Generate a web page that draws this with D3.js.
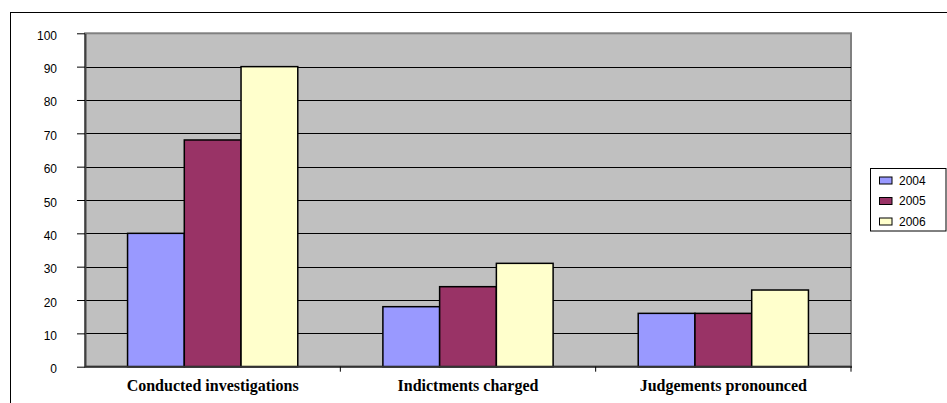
<!DOCTYPE html>
<html>
<head>
<meta charset="utf-8">
<script src="https://cdn.jsdelivr.net/npm/d3@7"></script>
<style>
  html, body { margin: 0; padding: 0; background: #fff; }
  svg { display: block; }
</style>
</head>
<body>
<svg id="chart" width="947" height="403"></svg>
<script>
// Case counts per year for each stage of proceedings
const categories = ["Conducted investigations", "Indictments charged", "Judgements pronounced"];
const years = ["2004", "2005", "2006"];
const values2004 = [40, 18, 16];
const values2005 = [68, 24, 16];
const values2006 = [90, 31, 23];
const yTicks = [0, 10, 20, 30, 40, 50, 60, 70, 80, 90, 100];
const seriesColors = ["#9999FF", "#993366", "#FFFFCC"];

const series = [values2004, values2005, values2006];

const svg = d3.select("#chart");
const plot = { left: 85, right: 851, top: 33.3, bottom: 366.7 };

// Outer chart frame (top and left edges show; the rest runs off the canvas)
svg.append("rect")
  .attr("x", 10.5).attr("y", 12.5)
  .attr("width", 960).attr("height", 420)
  .attr("fill", "#fff").attr("stroke", "#000").attr("stroke-width", 1);

const x = d3.scaleBand().domain(categories).range([plot.left, plot.right]).padding(0);
const xs = d3.scaleBand().domain(years).range([0, x.bandwidth()])
  .paddingInner(0).paddingOuter(0.75);
const y = d3.scaleLinear().domain([0, 100]).range([plot.bottom, plot.top]);

// Plot background
svg.append("rect")
  .attr("x", plot.left).attr("y", plot.top)
  .attr("width", plot.right - plot.left).attr("height", plot.bottom - plot.top)
  .attr("fill", "#C0C0C0").attr("stroke", "#808080").attr("stroke-width", 2);

// Horizontal gridlines
svg.append("g")
  .selectAll("line")
  .data(yTicks.filter(t => t > 0 && t < 100))
  .join("line")
  .attr("x1", plot.left).attr("x2", plot.right)
  .attr("y1", d => Math.round(y(d)) + 0.5).attr("y2", d => Math.round(y(d)) + 0.5)
  .attr("stroke", "#000").attr("stroke-width", 1);

// Bars
const groups = svg.append("g")
  .selectAll("g")
  .data(categories)
  .join("g")
  .attr("transform", d => `translate(${x(d)},0)`);

groups.selectAll("rect")
  .data((c, ci) => years.map((yr, si) => ({ yr, si, v: series[si][ci] })))
  .join("rect")
  .attr("x", d => xs(d.yr))
  .attr("y", d => y(d.v))
  .attr("width", xs.bandwidth())
  .attr("height", d => y(0) - y(d.v))
  .attr("fill", d => seriesColors[d.si])
  .attr("stroke", "#000")
  .attr("stroke-width", 1.5);

// Y axis
const yAxis = svg.append("g")
  .attr("transform", `translate(${plot.left},0)`)
  .call(d3.axisLeft(y).tickValues(yTicks).tickSize(8).tickPadding(20).tickSizeOuter(0));
yAxis.select(".domain").attr("stroke", "#404040").attr("stroke-width", 2);
yAxis.selectAll(".tick line").attr("stroke", "#000");
yAxis.selectAll(".tick text")
  .attr("font-family", "'Liberation Sans', Arial, sans-serif")
  .attr("font-size", 12)
  .attr("fill", "#000")
  .attr("dy", "0.5em");

// X axis baseline with category boundary ticks
svg.append("line")
  .attr("x1", plot.left).attr("x2", plot.right + 1)
  .attr("y1", plot.bottom).attr("y2", plot.bottom)
  .attr("stroke", "#333").attr("stroke-width", 2);

const boundaries = categories.map(c => x(c)).concat([plot.right]).slice(1);
svg.append("g")
  .selectAll("line")
  .data(boundaries)
  .join("line")
  .attr("x1", d => d).attr("x2", d => d)
  .attr("y1", plot.bottom).attr("y2", plot.bottom + 5)
  .attr("stroke", "#000").attr("stroke-width", 1);

// Category labels
svg.append("g")
  .selectAll("text")
  .data(categories)
  .join("text")
  .attr("x", d => x(d) + x.bandwidth() / 2)
  .attr("y", 390.5)
  .attr("text-anchor", "middle")
  .attr("font-family", "'Liberation Serif', 'Times New Roman', serif")
  .attr("font-weight", "bold")
  .attr("font-size", 16)
  .attr("fill", "#000")
  .text(d => d);

// Legend
const legend = svg.append("g");
legend.append("rect")
  .attr("x", 870.5).attr("y", 168.5)
  .attr("width", 75.5).attr("height", 62.5)
  .attr("fill", "#fff").attr("stroke", "#000").attr("stroke-width", 1);

const ly = d3.scalePoint().domain(years).range([180.5, 221.5]);
legend.selectAll("rect.sw")
  .data(years)
  .join("rect")
  .attr("class", "sw")
  .attr("x", 879.5).attr("y", d => ly(d) - 3.5)
  .attr("width", 12.5).attr("height", 7)
  .attr("fill", (d, i) => seriesColors[i])
  .attr("stroke", "#000").attr("stroke-width", 1);

legend.selectAll("text")
  .data(years)
  .join("text")
  .attr("x", 899)
  .attr("y", d => ly(d) + 4.3)
  .attr("font-family", "'Liberation Sans', Arial, sans-serif")
  .attr("font-size", 12)
  .attr("fill", "#000")
  .text(d => d);
</script>
</body>
</html>
